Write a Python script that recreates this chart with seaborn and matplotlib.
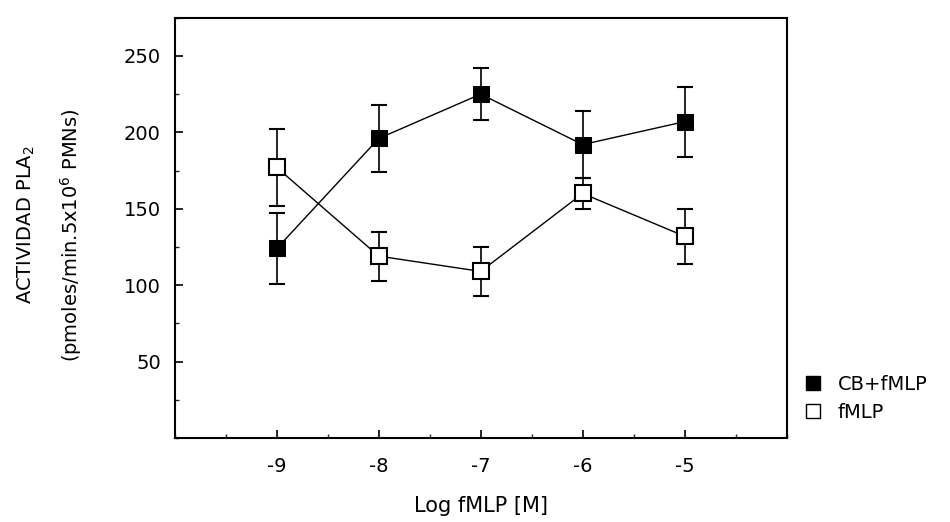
import numpy as np
import pandas as pd
import matplotlib
matplotlib.use("Agg")
import matplotlib.pyplot as plt
import seaborn as sns
from matplotlib.ticker import MultipleLocator
from matplotlib.lines import Line2D

log_fmlp = [-9, -8, -7, -6, -5]
cb_fmlp = [124, 196, 225, 192, 207]
cb_fmlp_err = [23, 22, 17, 22, 23]
fmlp = [177, 119, 109, 160, 132]
fmlp_err = [25, 16, 16, 10, 18]
series_names = ["CB+fMLP", "fMLP"]

sns.set_theme(style="ticks")
plt.rcParams['font.family'] = ['DejaVu Sans']
plt.rcParams['text.color'] = 'black'
plt.rcParams['axes.labelcolor'] = 'black'

df = pd.DataFrame({
    "x": log_fmlp * 2,
    "y": cb_fmlp + fmlp,
    "serie": [series_names[0]] * 5 + [series_names[1]] * 5,
})

fig = plt.figure(figsize=(9.5, 5.22), dpi=100)
ax = fig.add_axes([0.184, 0.161, 0.644, 0.805])

for name, vals, errs in [(series_names[0], cb_fmlp, cb_fmlp_err),
                         (series_names[1], fmlp, fmlp_err)]:
    ax.errorbar(log_fmlp, vals, yerr=errs, fmt="none", ecolor="black",
                elinewidth=1.2, capsize=6, capthick=1.5, zorder=2)

sns.lineplot(data=df[df.serie == series_names[0]], x="x", y="y", ax=ax,
             color="black", linewidth=1.0, marker="s", markersize=11,
             markerfacecolor="black", markeredgecolor="black", zorder=3, legend=False)
sns.lineplot(data=df[df.serie == series_names[1]], x="x", y="y", ax=ax,
             color="black", linewidth=1.0, marker="s", markersize=11,
             markerfacecolor="white", markeredgecolor="black", markeredgewidth=1.5,
             zorder=4, legend=False)

ax.set_xlim(-10, -4)
ax.set_ylim(0, 275)
ax.set_xticks(log_fmlp)
ax.set_xticklabels([str(v) for v in log_fmlp])
ax.xaxis.set_minor_locator(MultipleLocator(0.5))
ax.set_yticks([50, 100, 150, 200, 250])
ax.yaxis.set_minor_locator(MultipleLocator(25))
ax.tick_params(axis="both", which="major", direction="in", length=6, width=1.2,
               labelsize=14, pad=10, colors="black")
ax.tick_params(axis="both", which="minor", direction="in", length=3, width=1.0)
ax.tick_params(axis="x", pad=14)
for s in ax.spines.values():
    s.set_linewidth(1.5)
    s.set_color("black")
ax.set_xlabel("Log fMLP [M]", fontsize=15, labelpad=14)
ax.set_ylabel("")

fig.text(0.028, 0.57, "ACTIVIDAD PLA$_2$", rotation=90, ha="center", va="center", fontsize=14)
fig.text(0.075, 0.55, "(pmoles/min.5x10$^6$ PMNs)", rotation=90, ha="center", va="center", fontsize=14)

handles = [Line2D([], [], linestyle="none", marker="s", markersize=10,
                  markerfacecolor="black", markeredgecolor="black"),
           Line2D([], [], linestyle="none", marker="s", markersize=10,
                  markerfacecolor="white", markeredgecolor="black")]
fig.legend(handles, series_names, loc="upper left", bbox_to_anchor=(0.843, 0.29),
           frameon=False, fontsize=14, handletextpad=0.9, labelspacing=0.5,
           handlelength=0.8, borderaxespad=0, borderpad=0.2)

fig.savefig("out.png", dpi=100, facecolor="white")
